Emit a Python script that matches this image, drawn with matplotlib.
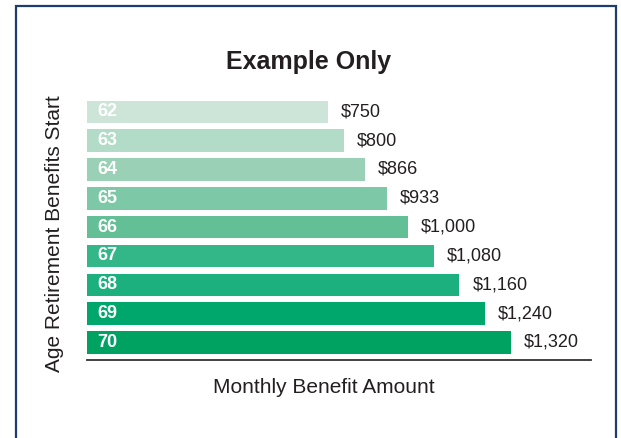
import matplotlib
matplotlib.use("Agg")
import matplotlib.pyplot as plt
from matplotlib.patches import Rectangle

plt.rcParams['font.family'] = ['Liberation Sans', 'DejaVu Sans']

ages = ["62", "63", "64", "65", "66", "67", "68", "69", "70"]
benefits = [750, 800, 866, 933, 1000, 1080, 1160, 1240, 1320]
value_labels = ["$750", "$800", "$866", "$933", "$1,000", "$1,080", "$1,160", "$1,240", "$1,320"]
bar_colors = ["#cde5d9", "#b3dcc8", "#9ad1b6", "#7dc8a6", "#63bf96",
              "#33b688", "#1bb07d", "#00a76c", "#00a262"]

W, H = 621, 438
fig = plt.figure(figsize=(W / 100, H / 100), dpi=100)
fig.patch.set_facecolor("white")

# frame
fig.patches.append(Rectangle((15.5 / W, -0.1), (616 - 15.5) / W, 1.1 - 6 / H + 0.0,
                             transform=fig.transFigure, fill=False,
                             edgecolor="#1e3d6e", linewidth=1.6))

ax = fig.add_axes([87 / W, 1 - 360 / H, 504 / W, (360 - 97.4) / H])
y = list(range(len(ages)))
ax.barh(y, benefits, height=0.78, color=bar_colors, left=0)
ax.set_xlim(0, 1570)
ax.set_ylim(8.607, -0.5)

for yi, age, v, lab in zip(y, ages, benefits, value_labels):
    ax.annotate(age, xy=(0, yi), xytext=(7.2, 0), textcoords="offset points",
                ha="left", va="center", color="white", fontsize=13, fontweight="bold")
    ax.annotate(lab, xy=(v, yi), xytext=(9.4, 0), textcoords="offset points",
                ha="left", va="center", color="#231f20", fontsize=13)

for s in ["top", "right", "left"]:
    ax.spines[s].set_visible(False)
ax.spines["bottom"].set_color("#333333")
ax.spines["bottom"].set_linewidth(1.3)
ax.set_xticks([])
ax.set_yticks([])

fig.text(308.5 / W, 1 - 69 / H, "Example Only", ha="center", va="baseline",
         fontsize=18, fontweight="bold", color="#231f20")
fig.text(324 / W, 1 - 393 / H, "Monthly Benefit Amount", ha="center", va="baseline",
         fontsize=15, color="#231f20")
fig.text(55 / W, 1 - 234 / H, "Age Retirement Benefits Start", ha="center", va="center",
         rotation=90, fontsize=15, color="#231f20")

fig.savefig("out.png", dpi=100)
